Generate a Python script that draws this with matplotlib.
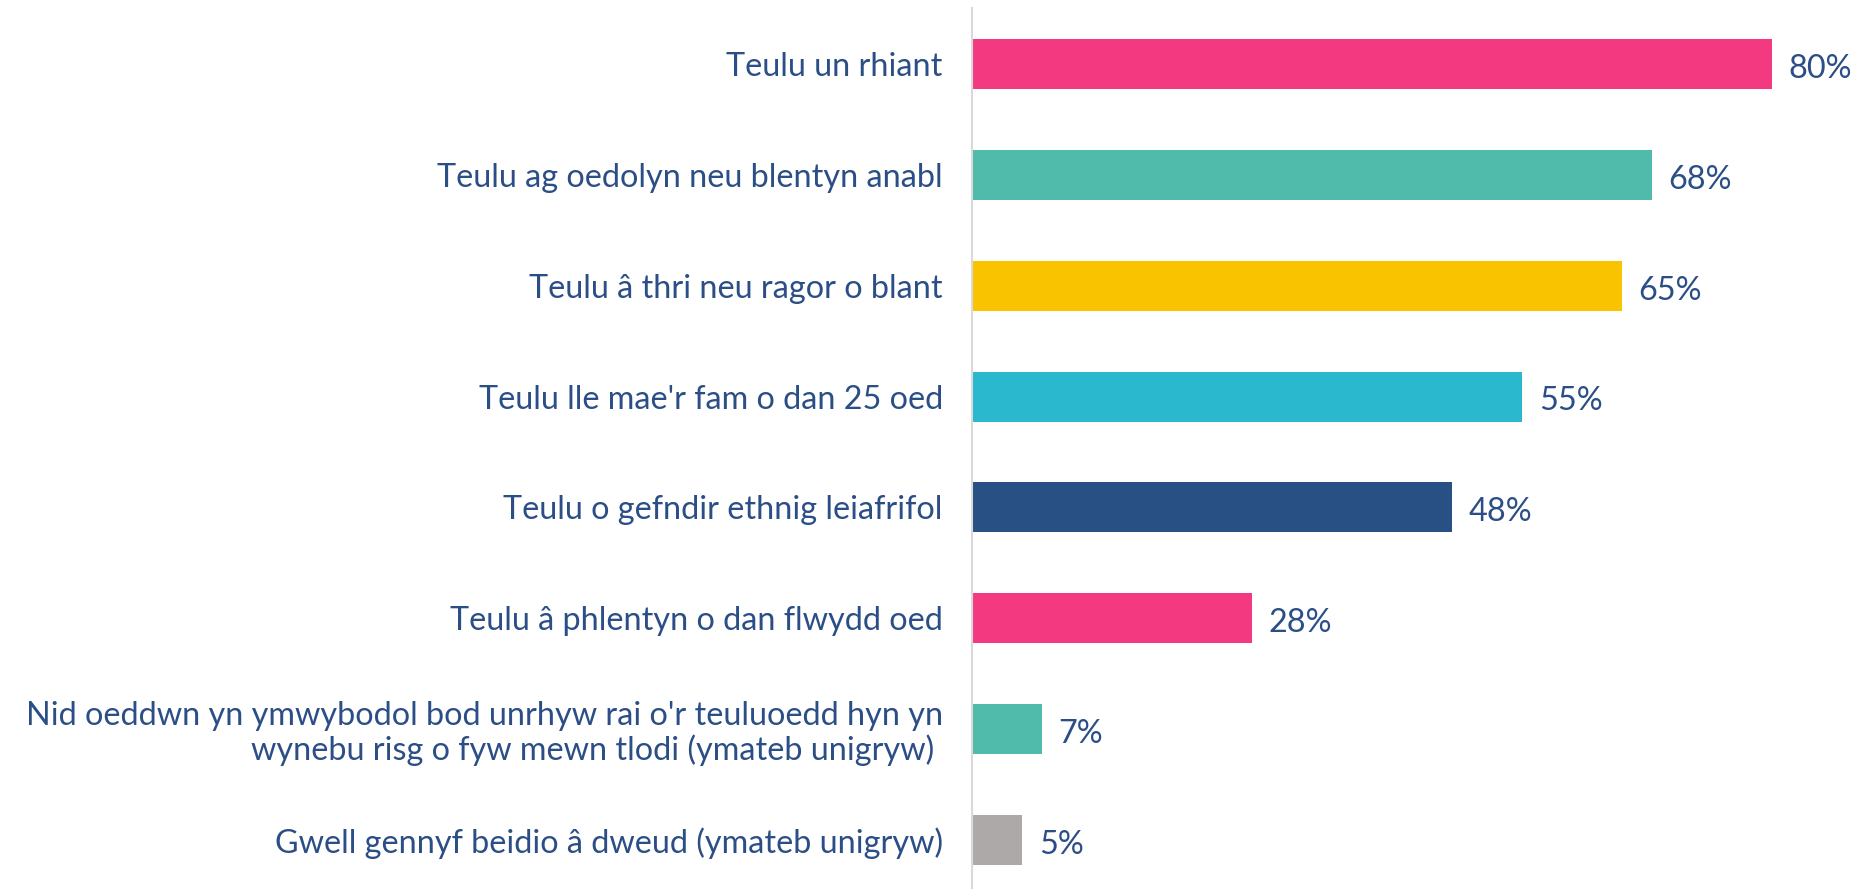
import matplotlib
matplotlib.use('Agg')
import matplotlib.pyplot as plt

# survey answers, top to bottom
categories = [
    'Teulu un rhiant',
    'Teulu ag oedolyn neu blentyn anabl',
    'Teulu â thri neu ragor o blant',
    "Teulu lle mae'r fam o dan 25 oed",
    'Teulu o gefndir ethnig leiafrifol',
    'Teulu â phlentyn o dan flwydd oed',
    "Nid oeddwn yn ymwybodol bod unrhyw rai o'r teuluoedd hyn yn\nwynebu risg o fyw mewn tlodi (ymateb unigryw) ",
    'Gwell gennyf beidio â dweud (ymateb unigryw)',
]
values = [80, 68, 65, 55, 48, 28, 7, 5]
colors = ['#F33A80', '#50BBAA', '#FAC300', '#2AB8CF', '#285085',
          '#F33A80', '#50BBAA', '#ADA9A9']

text_color = '#2B4E86'
plt.rcParams['font.family'] = ['Lato', 'DejaVu Sans']

fig = plt.figure(figsize=(18.6, 8.89), dpi=100)
ax = fig.add_axes([972 / 1860, 0, 888 / 1860, 881 / 889])

ypos = list(range(len(categories)))
ax.barh(ypos, values, height=0.45, color=colors)

for y, v in zip(ypos, values):
    ax.annotate(f'{v}%', (v, y), xytext=(12, -3.5), textcoords='offset points',
                va='center', ha='left', fontsize=23.3, color=text_color)

ax.set_xlim(0, 88.8)
ax.set_ylim(7.442, -0.505)
ax.set_yticks(ypos)
ax.set_yticklabels(categories, fontsize=23.3, color=text_color, ha='right',
                   multialignment='right', linespacing=1.1)
ax.tick_params(axis='y', length=0, pad=21)
ax.set_xticks([])

for side in ['top', 'right', 'bottom']:
    ax.spines[side].set_visible(False)
ax.spines['left'].set_color('#D9D9D9')
ax.spines['left'].set_linewidth(1.5)

fig.savefig('out.png', dpi=100)
